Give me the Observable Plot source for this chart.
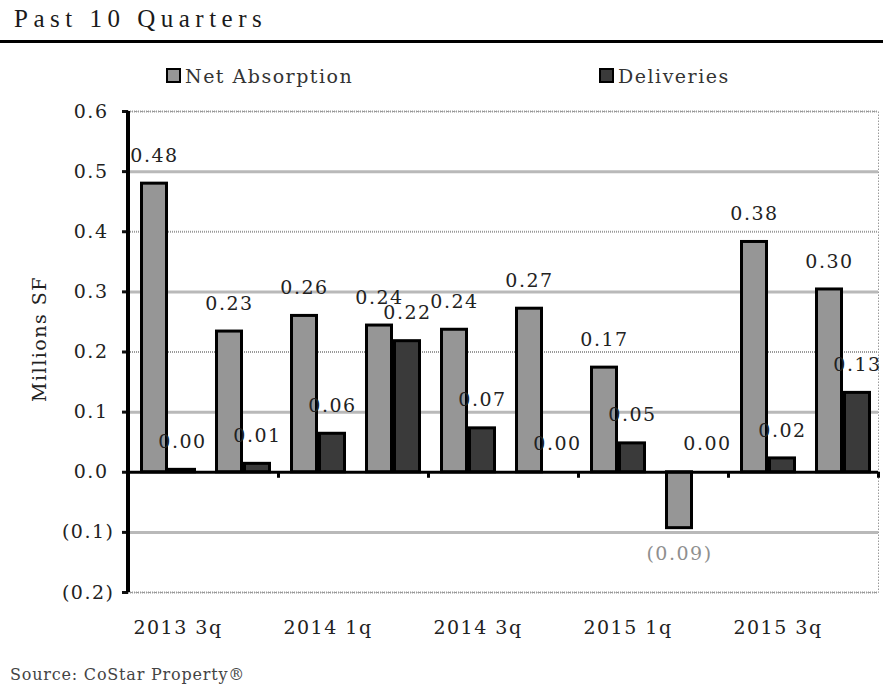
<!DOCTYPE html>
<html>
<head>
<meta charset="utf-8">
<script src="https://cdn.jsdelivr.net/npm/d3@7"></script>
<script src="https://cdn.jsdelivr.net/npm/@observablehq/plot@0.6"></script>
<style>
  html, body { margin: 0; padding: 0; background: #fff; }
  #page { position: relative; width: 883px; height: 688px; overflow: hidden; background: #fff; }
  .title { position: absolute; left: 14px; top: 6px; font: 25px/25px "Liberation Serif", serif; letter-spacing: 5.5px; color: #1a1a1a; white-space: nowrap; }
  .rule { position: absolute; left: 0; top: 40px; width: 883px; height: 3px; background: #000; }
  .legend-item { position: absolute; top: 67px; font: 19px/19px "DejaVu Serif", serif; letter-spacing: 1.5px; color: #333; white-space: nowrap; }
  .swatch { position: absolute; width: 15px; height: 15px; box-sizing: border-box; border: 2px solid #000; top: 68px; }
  #chart { position: absolute; left: 0; top: 90px; }
  .source { position: absolute; left: 10px; top: 667px; font: 16px/16px "DejaVu Serif", serif; letter-spacing: 0.8px; color: #444; white-space: nowrap; }
  #chart svg [aria-label^="y-axis"] line,
  #chart svg [aria-label^="y-axis"] path { stroke-width: 3px; }
</style>
</head>
<body>
<div id="page">
  <div class="title">Past 10 Quarters</div>
  <div class="rule"></div>
  <div class="swatch" style="left:166px;background:#969696"></div>
  <div class="legend-item" style="left:185px">Net Absorption</div>
  <div class="swatch" style="left:599px;background:#3a3a3a"></div>
  <div class="legend-item" style="left:618px">Deliveries</div>
  <div id="chart"></div>
  <div class="source">Source: CoStar Property®</div>
</div>
<script>
// Quarterly net absorption and deliveries, millions of square feet
const quarters = ["2013 3q", "2013 4q", "2014 1q", "2014 2q", "2014 3q",
                  "2014 4q", "2015 1q", "2015 2q", "2015 3q", "2015 4q"];
const netAbsorption = [0.48, 0.234, 0.26, 0.244, 0.237, 0.272, 0.174, -0.093, 0.383, 0.304];
const deliveries    = [0.004, 0.014, 0.064, 0.218, 0.073, 0, 0.048, 0, 0.023, 0.132];
const yTicks = [0.6, 0.5, 0.4, 0.3, 0.2, 0.1, 0, -0.1, -0.2];
const xTickLabels = ["2013 3q", "2014 1q", "2014 3q", "2015 1q", "2015 3q"];

const rows = quarters.map((quarter, i) => ({
  quarter, net: netAbsorption[i], deliveries: deliveries[i]
}));

const W = 883, H = 560;
const margin = {top: 21, right: 5, bottom: 58, left: 128};
const band = (W - margin.left - margin.right) / quarters.length;
const tickDepth = 0.01; // length of the category ticks below the zero line, in y units

const f2 = d3.format(".2f"), f1 = d3.format(".1f");
const valueLabel = v => v < 0 ? `(${f2(-v)})` : f2(v);
const axisLabel = v => v < 0 ? `(${f1(-v)})` : f1(v);

const oddGrid = yTicks.filter(v => Math.round(v * 10) % 2 !== 0);
const evenGrid = yTicks.filter(v => v !== 0 && Math.round(v * 10) % 2 === 0);

const chart = Plot.plot({
  width: W,
  height: H,
  marginTop: margin.top,
  marginRight: margin.right,
  marginBottom: margin.bottom,
  marginLeft: margin.left,
  style: {fontFamily: "'DejaVu Serif', serif", fontSize: "19px", letterSpacing: "1.5px", color: "#111", background: "transparent", overflow: "visible"},
  x: {domain: quarters, padding: 0, axis: null},
  y: {domain: [-0.2, 0.6], ticks: 8, tickSize: 6, tickFormat: () => "", label: null},
  marks: [
    Plot.frame({stroke: "#9a9a9a", strokeDasharray: "1.5,1.5"}),
    Plot.ruleY(oddGrid, {y: d => d, stroke: "#b9b9b9", strokeWidth: 3}),
    Plot.ruleY(evenGrid, {y: d => d, stroke: "#9a9a9a", strokeWidth: 2, strokeDasharray: "1,1"}),
    Plot.barY(rows, {x: "quarter", y: "net", fill: "#969696", stroke: "#000", strokeWidth: 3,
                     insetLeft: 13.5, insetRight: 36.5}),
    Plot.barY(rows, {x: "quarter", y: "deliveries", fill: "#3a3a3a", stroke: "#000", strokeWidth: 3,
                     insetLeft: 41.5, insetRight: 8.5}),
    Plot.ruleY([0], {stroke: "#000", strokeWidth: 3}),
    Plot.ruleX([quarters[0]], {x: d => d, dx: -band / 2 - 0.5, stroke: "#000", strokeWidth: 4}),
    Plot.ruleX(quarters.filter((d, i) => i % 2 === 1),
               {x: d => d, dx: band / 2, y1: 0, y2: -tickDepth, stroke: "#000", strokeWidth: 3}),
    // value labels
    Plot.text(rows.filter(d => d.net >= 0), {x: "quarter", y: "net", text: d => valueLabel(d.net),
              dx: -11.5, dy: -28, fontSize: 19, fill: "#222"}),
    Plot.text(rows.filter(d => d.net < 0), {x: "quarter", y: "net", text: d => valueLabel(d.net),
              dx: -11.5, dy: 26, fontSize: 19, fill: "#8f8f8f"}),
    Plot.text(rows, {x: "quarter", y: "deliveries", text: d => valueLabel(d.deliveries),
              dx: 16.5, dy: -28, fontSize: 19, fill: "#222"}),
    // y tick labels (negatives in parentheses hang slightly to the right)
    Plot.text(yTicks.filter(v => v >= 0), {y: d => d, text: axisLabel, frameAnchor: "left",
              textAnchor: "end", dx: -20, fontSize: 19, fill: "#222"}),
    Plot.text(yTicks.filter(v => v < 0), {y: d => d, text: axisLabel, frameAnchor: "left",
              textAnchor: "end", dx: -14, fontSize: 19, fill: "#222"}),
    // category labels, every other quarter
    Plot.text(xTickLabels, {x: d => d, text: d => d, frameAnchor: "bottom", lineAnchor: "middle",
              textAnchor: "middle", dy: 35, dx: 12, fontSize: 19, fill: "#222"}),
    // y-axis title
    Plot.text(["Millions SF"], {text: d => d, frameAnchor: "left", textAnchor: "middle",
              lineAnchor: "middle", rotate: -90, dx: -89, dy: -13, fontSize: 19, fill: "#222"})
  ]
});

document.getElementById("chart").appendChild(chart);
</script>
</body>
</html>
